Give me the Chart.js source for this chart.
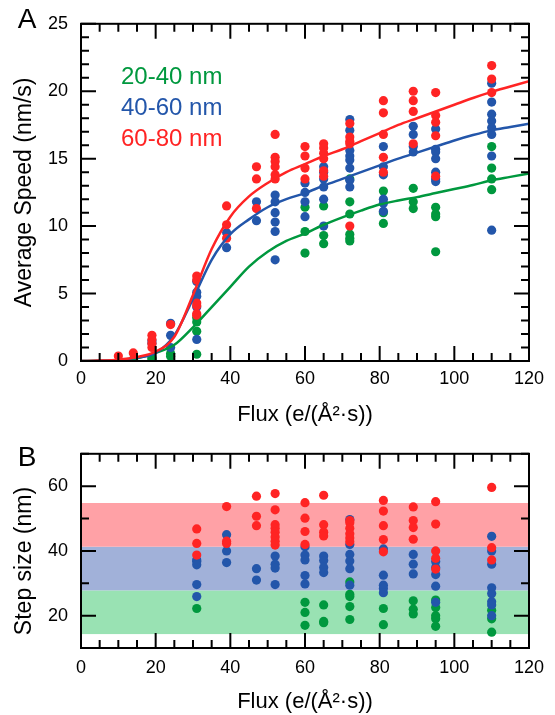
<!DOCTYPE html>
<html lang="en">
  <head>
    <meta charset="UTF-8" />
    <title>Average speed and step size vs flux</title>
    <script src="https://cdn.jsdelivr.net/npm/chart.js"></script>
    <style>
      body { margin: 0; background: #fff; }
      .painel { position: relative; width: 555px; height: 715px; }
      canvas { position: absolute; left: 0; }
      #graficoA { top: 0; }
      #graficoB { top: 430px; }
    </style>
  </head>
  <body>
    <div class="painel">
      <canvas id="graficoA" width="555" height="430"></canvas>
      <canvas id="graficoB" width="555" height="285"></canvas>
    </div>
  </body>
</html>
<script>
  // ---- dados ----
  const legendas = ["20-40 nm", "40-60 nm", "60-80 nm"];
  const cores = ["#00983e", "#2356aa", "#ff2424"];

  // painel A: velocidade media (nm/s) x fluxo, [fluxo, velocidade]
  const velVerde = [
    [14, 0.1], [19, 0.25], [19, 0.15], [24, 0.55], [24, 0.35],
    [31, 3.2], [31, 2.9], [31, 2.2], [31, 0.5],
    [60, 11.4], [60, 9.6], [60, 8.0], [65, 11.5], [65, 9.3], [65, 8.7],
    [72, 13.5], [72, 11.8], [72, 10.9], [72, 9.4], [72, 9.1], [72, 8.9],
    [81, 12.6], [81, 11.0], [81, 10.2], [89, 12.8], [89, 11.8], [89, 11.3],
    [95, 11.4], [95, 10.9], [95, 10.7], [95, 8.1],
    [110, 15.9], [110, 14.3], [110, 13.5], [110, 12.7],
  ];
  const velAzul = [
    [19, 1.5], [19, 1.3], [24, 2.8], [24, 1.9], [24, 1.0],
    [31, 5.9], [31, 5.1], [31, 4.8], [31, 4.0], [31, 1.6],
    [39, 9.5], [39, 8.4], [47, 11.8], [47, 10.4],
    [52, 12.3], [52, 11.8], [52, 11.0], [52, 10.3], [52, 9.6], [52, 7.5],
    [60, 13.2], [60, 12.5], [60, 11.8], [60, 10.7],
    [65, 14.4], [65, 14.0], [65, 13.5], [65, 12.9], [65, 12.0], [65, 10.0],
    [72, 17.9], [72, 17.1], [72, 15.6], [72, 15.2], [72, 14.9], [72, 14.3], [72, 13.4], [72, 12.9],
    [81, 15.9], [81, 14.4], [81, 13.8], [81, 12.0], [81, 11.7], [81, 11.1],
    [89, 17.4], [89, 16.8], [89, 15.9], [89, 15.5],
    [95, 17.2], [95, 15.7], [95, 15.5], [95, 15.0], [95, 14.0], [95, 13.5], [95, 13.3],
    [110, 20.6], [110, 19.2], [110, 18.3], [110, 17.8], [110, 17.3], [110, 16.8], [110, 15.2], [110, 9.7],
  ];
  const velVermelho = [
    [10, 0.37], [14, 0.6], [19, 1.9], [19, 1.6], [19, 1.3], [19, 1.0], [24, 2.7],
    [31, 6.3], [31, 6.0], [31, 4.3], [31, 4.1], [31, 3.5], [31, 3.4],
    [39, 11.5], [39, 10.1], [39, 9.1], [47, 14.4], [47, 13.5], [47, 11.3],
    [52, 16.8], [52, 15.1], [52, 14.8], [52, 14.4], [52, 13.8], [52, 13.5],
    [60, 15.9], [60, 15.2], [60, 14.3], [60, 13.5],
    [65, 16.1], [65, 15.8], [65, 15.4], [65, 15.0], [65, 14.1], [65, 13.7],
    [72, 17.6], [72, 16.6], [72, 16.3], [72, 16.1], [72, 10.0],
    [81, 19.3], [81, 18.4], [81, 16.8], [81, 15.1], [81, 14.0],
    [89, 20.0], [89, 19.3], [89, 18.5], [89, 16.1],
    [95, 19.9], [95, 18.2], [95, 17.7], [95, 16.7], [95, 13.7],
    [110, 21.9], [110, 20.9], [110, 19.9],
  ];

  // curvas ajustadas (lidas a cada 5 unidades de fluxo)
  const ajusteX = [0, 5, 10, 15, 20, 25, 30, 35, 40, 45, 50, 55, 60, 65, 70, 75, 80, 85, 90, 95, 100, 105, 110, 115, 120];
  const ajusteVerde = [0, 0.01, 0.05, 0.2, 0.6, 1.2, 2.5, 4.0, 5.5, 7.0, 8.1, 8.9, 9.45, 10.1, 10.65, 11.15, 11.6, 11.9, 12.15, 12.45, 12.75, 13.05, 13.4, 13.65, 13.9];
  const ajusteAzul = [0, 0.02, 0.08, 0.25, 0.6, 1.9, 4.6, 7.5, 9.4, 10.5, 11.4, 12.0, 12.45, 13.0, 13.5, 14.0, 14.5, 15.0, 15.45, 15.9, 16.35, 16.75, 17.1, 17.35, 17.6];
  const ajusteVermelho = [0, 0.03, 0.1, 0.3, 0.7, 1.8, 4.9, 8.3, 10.7, 12.2, 13.2, 14.0, 14.6, 15.2, 15.7, 16.3, 16.9, 17.5, 18.0, 18.5, 19.0, 19.5, 19.95, 20.35, 20.75];

  // painel B: tamanho do passo (nm) x fluxo
  const passoVerde = [
    [31, 22.2], [60, 24.1], [60, 21.0], [60, 17.0], [65, 23.3], [65, 18.2], [65, 17.8],
    [72, 30.4], [72, 26.6], [72, 25.9], [72, 22.8], [72, 18.8], [81, 22.2], [81, 17.2],
    [89, 24.6], [89, 22.0], [89, 20.5], [95, 24.8], [95, 22.5], [95, 20.0], [95, 19.0], [95, 16.7],
    [110, 21.7], [110, 19.0], [110, 14.9],
  ];
  const passoAzul = [
    [31, 37.2], [31, 36.7], [31, 35.7], [31, 29.6], [31, 25.9],
    [39, 45.0], [39, 40.0], [39, 36.4], [47, 34.5], [47, 31.0],
    [52, 38.4], [52, 35.9], [52, 34.7], [52, 29.6],
    [60, 41.3], [60, 38.7], [60, 37.2], [60, 32.4], [60, 29.8],
    [65, 38.4], [65, 37.0], [65, 34.9], [65, 33.3],
    [72, 49.7], [72, 42.0], [72, 38.9], [72, 36.9], [72, 34.5], [72, 29.4],
    [81, 40.6], [81, 32.5], [81, 29.4], [81, 28.4], [81, 27.1],
    [89, 38.9], [89, 35.9], [89, 32.9],
    [95, 36.7], [95, 34.9], [95, 32.7], [95, 29.1], [95, 24.1],
    [110, 44.5], [110, 40.0], [110, 35.9], [110, 28.6], [110, 26.8], [110, 24.3], [110, 23.3], [110, 20.0],
  ];
  const passoVermelho = [
    [31, 46.8], [31, 42.3], [31, 38.7], [39, 53.7], [39, 43.0], [39, 42.3],
    [47, 56.9], [47, 50.7], [47, 47.8],
    [52, 57.7], [52, 52.7], [52, 48.1], [52, 47.0], [52, 45.8], [52, 44.3], [52, 43.0], [52, 41.8],
    [60, 54.9], [60, 50.1], [60, 46.0], [60, 42.0], [65, 57.2], [65, 48.1], [65, 45.8], [65, 44.6],
    [72, 49.4], [72, 48.7], [72, 47.0], [72, 45.3], [72, 44.0], [72, 42.8],
    [81, 55.6], [81, 52.3], [81, 47.8], [81, 43.5], [81, 39.7],
    [89, 53.6], [89, 49.4], [89, 47.2], [89, 43.6],
    [95, 55.2], [95, 48.3], [95, 40.0], [95, 37.7], [95, 34.4],
    [110, 59.6], [110, 41.0], [110, 37.2],
  ];

  // faixas de tamanho de passo [inicio, fim]
  const faixas = [[14.3, 27.8], [27.8, 41.3], [41.3, 54.8]];
  const coresFaixas = ["#99e2b3", "#a1b1d9", "#ffa1a6"];

  // ---- configuracao ----
  Chart.defaults.font.family = "'Liberation Sans', Arial, sans-serif";
  Chart.defaults.color = "#000";

  function pontos(lista) {
    return lista.map((p) => ({ x: p[0], y: p[1] }));
  }

  // moldura com marcas para dentro, nos quatro lados, mais letras e legenda
  const moldura = {
    id: "moldura",
    afterDraw(chart, args, opts) {
      const { ctx, chartArea: a, scales } = chart;
      ctx.save();
      ctx.strokeStyle = "#000";
      ctx.lineWidth = 2;
      ctx.beginPath();
      scales.x.ticks.forEach((t) => {
        const px = scales.x.getPixelForValue(t.value);
        const len = t.value % opts.xMaior === 0 ? 15 : 8;
        ctx.moveTo(px, a.bottom);
        ctx.lineTo(px, a.bottom - len);
        ctx.moveTo(px, a.top);
        ctx.lineTo(px, a.top + len);
      });
      scales.y.ticks.forEach((t) => {
        const py = scales.y.getPixelForValue(t.value);
        const len = t.value % opts.yMaior === 0 ? 15 : 8;
        ctx.moveTo(a.left, py);
        ctx.lineTo(a.left + len, py);
        ctx.moveTo(a.right, py);
        ctx.lineTo(a.right - len, py);
      });
      ctx.stroke();
      ctx.strokeRect(a.left, a.top, a.right - a.left, a.bottom - a.top);

      ctx.fillStyle = "#000";
      ctx.font = "28px 'Liberation Sans', Arial, sans-serif";
      ctx.textAlign = "center";
      ctx.textBaseline = "middle";
      ctx.fillText(opts.letra, 27, opts.letraY);

      // titulo do eixo y desenhado a mao quando fica fora do centro
      if (opts.tituloY) {
        ctx.save();
        ctx.font = "23px 'Liberation Sans', Arial, sans-serif";
        ctx.translate(25, opts.tituloYpos);
        ctx.rotate(-Math.PI / 2);
        ctx.fillText(opts.tituloY, 0, 0);
        ctx.restore();
      }

      if (opts.legenda) {
        ctx.font = "24px 'Liberation Sans', Arial, sans-serif";
        ctx.textAlign = "left";
        legendas.forEach((txt, i) => {
          ctx.fillStyle = cores[i];
          ctx.fillText(txt, 121, 77 + i * 31);
        });
      }
      ctx.restore();
    },
  };

  // faixas coloridas atras dos pontos
  const faixasPlugin = {
    id: "faixas",
    beforeDatasetsDraw(chart, args, opts) {
      if (!opts.ativo) return;
      const { ctx, chartArea: a, scales } = chart;
      ctx.save();
      faixas.forEach((f, i) => {
        const y1 = scales.y.getPixelForValue(f[1]);
        const y0 = scales.y.getPixelForValue(f[0]);
        ctx.fillStyle = coresFaixas[i];
        ctx.fillRect(a.left, y1, a.right - a.left, y0 - y1);
      });
      ctx.restore();
    },
  };

  function eixoX(altura, padLabel, padTitulo) {
    return {
      type: "linear",
      min: 0,
      max: 120,
      afterFit: (s) => { s.height = altura; },
      grid: { display: false, drawTicks: false },
      border: { display: false },
      ticks: {
        stepSize: 5,
        autoSkip: false,
        maxRotation: 0,
        padding: padLabel,
        font: { size: 18 },
        callback: (v) => (v % 20 === 0 ? v : ""),
      },
      title: {
        display: true,
        text: "Flux (e/(Å²·s))",
        font: { size: 22 },
        padding: { top: 0, bottom: padTitulo },
      },
    };
  }

  function eixoY(min, max, passo, maior, titulo) {
    return {
      type: "linear",
      min: min,
      max: max,
      afterFit: (s) => { s.width = 81; },
      grid: { display: false, drawTicks: false },
      border: { display: false },
      ticks: {
        stepSize: passo,
        autoSkip: false,
        padding: 13,
        font: { size: 18 },
        callback: (v) => (v % maior === 0 ? v : ""),
      },
      title: {
        display: titulo !== "",
        text: titulo,
        font: { size: 23 },
        padding: { top: 11, bottom: 0 },
      },
    };
  }

  function dispersao(lista, cor) {
    return {
      type: "scatter",
      data: pontos(lista),
      backgroundColor: cor,
      borderColor: cor,
      pointRadius: 4.6,
      pointBorderWidth: 0,
    };
  }

  function curva(valores, cor) {
    return {
      type: "line",
      data: ajusteX.map((x, i) => ({ x: x, y: valores[i] })),
      borderColor: cor,
      borderWidth: 2.5,
      pointRadius: 0,
      fill: false,
      cubicInterpolationMode: "monotone",
    };
  }

  new Chart(document.getElementById("graficoA"), {
    type: "scatter",
    data: {
      datasets: [
        curva(ajusteVermelho, cores[2]),
        curva(ajusteAzul, cores[1]),
        curva(ajusteVerde, cores[0]),
        dispersao(velVermelho, cores[2]),
        dispersao(velAzul, cores[1]),
        dispersao(velVerde, cores[0]),
      ],
    },
    options: {
      responsive: false,
      animation: false,
      layout: { padding: { top: 18, right: 26, bottom: 0, left: 0 } },
      scales: {
        x: eixoX(69, 7, 2),
        y: eixoY(0, 25, 1, 5, "Average Speed (nm/s)"),
      },
      plugins: {
        legend: { display: false },
        tooltip: { enabled: false },
        moldura: { xMaior: 20, yMaior: 5, letra: "A", letraY: 20, legenda: true },
        faixas: { ativo: false },
      },
    },
    plugins: [faixasPlugin, moldura],
  });

  new Chart(document.getElementById("graficoB"), {
    type: "scatter",
    data: {
      datasets: [
        dispersao(passoVermelho, cores[2]),
        dispersao(passoAzul, cores[1]),
        dispersao(passoVerde, cores[0]),
      ],
    },
    options: {
      responsive: false,
      animation: false,
      layout: { padding: { top: 19, right: 26, bottom: 0, left: 0 } },
      scales: {
        x: eixoX(67, 9, 0),
        y: eixoY(10, 70, 10, 20, ""),
      },
      plugins: {
        legend: { display: false },
        tooltip: { enabled: false },
        moldura: {
          xMaior: 20, yMaior: 20, letra: "B", letraY: 28, legenda: false,
          tituloY: "Step size (nm)", tituloYpos: 131,
        },
        faixas: { ativo: true },
      },
    },
    plugins: [faixasPlugin, moldura],
  });
</script>
